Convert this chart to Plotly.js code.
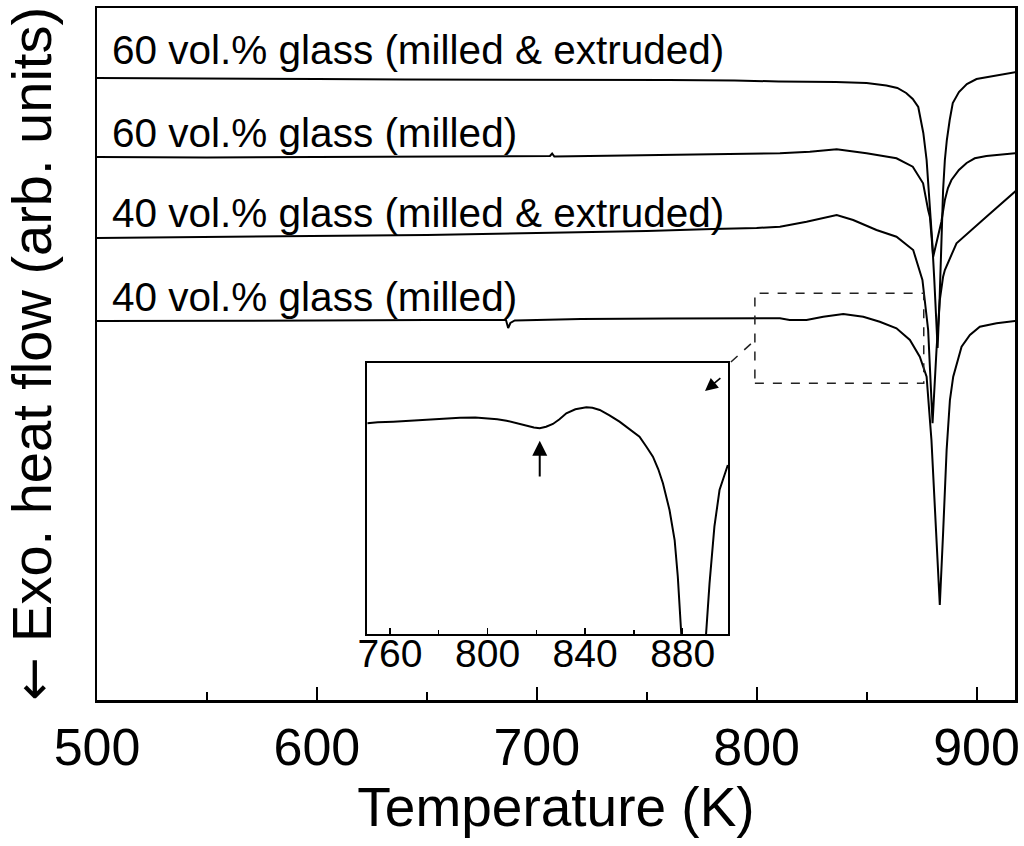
<!DOCTYPE html>
<html>
<head>
<meta charset="utf-8">
<script src="https://cdn.plot.ly/plotly-3.0.1.min.js"></script>
<style>html,body{margin:0;padding:0;background:#fff;}#chart{width:1024px;height:846px;}</style>
</head>
<body>
<div id="chart"></div>
<script>
// ---- Data (temperature in K, heat flow in arbitrary offset units) ----
const labels = [
  "60 vol.% glass (milled & extruded)",
  "60 vol.% glass (milled)",
  "40 vol.% glass (milled & extruded)",
  "40 vol.% glass (milled)"
];
const labelY = [650, 567, 487, 403];

const t60me = [500,530,560,600,640,680,720,760,790,810,836,850,859,864,868,871,873.5,875.8,877.3,878.6,879.8,880.8,881.6,882.3,883.2,884.0,884.8,885.6,886.5,887.8,889.2,892,895.6,900,904.7,910,918];
const f60me = [622,621.5,621.5,621,620.5,620.5,620,620,619.5,618.5,618,617,614.5,612,607,601,593,567,540,500,460,420,385,352,400,460,510,540,560,580,597,608,616,621,623,625,628];

const t60m = [500,550,600,650,690,706,707,708,740,780,810.6,824.2,836.4,850,863.6,871,875.7,878,878.8,880.3,882,884,885.6,887,888.6,892,895.5,899.2,904.5,918.2];
const f60m = [543,542.5,543,543.5,544,544,546.5,543.5,544.5,545.5,546.7,548.3,550.7,546.7,541.7,533.3,516.7,490,483,443.3,458,478,500,512,520,530,537,541.7,544,547];

const t40me = [500,550,600,650,700,750,780,800,810.6,822.7,836.4,843.9,854.5,863.6,871.2,875.4,878,880,881.8,883.3,884.8,885.6,890.9,899.2,904.5,918.3];
const f40me = [462,463,464,465,467,469,471,472,473.3,478.3,485,480,470,463.3,450,420,370,276.7,350,400,423.3,430,456.7,473.3,483.3,510];

const t40m = [500,550,600,650,680,686,687,688,690,720,760,800,810.6,815,822.7,830.3,839.4,848.5,856,863.6,869.7,874.2,877.3,879.5,881.8,883.3,884.8,886.4,887.9,889.4,893.2,897,901.5,909.1,918.2];
const f40m = [379,379,379.5,380,380,380,372,377,379.5,381,381.5,382,381.7,380,380,383.3,386,383.3,378.3,371.7,360,343.3,323.3,260,167,95,167,250,300,323.3,353.3,365,373.3,376.7,379.3];

// inset: 40 vol.% glass (milled), magnified
const tInset = [750.7,755,761.4,768,775,782,788.7,795,799.6,804,807.8,812,816,819,821.4,824,826.8,829.5,832.3,836,840.5,843,846,850,854.1,858,862.3,865,867.8,870,871.9,874.6,876.7,878,879.4,881,883.6,886.5,888.5,889.6,891,893,895.1,898.5];
const fInset = [211,212,212.6,213.5,215,215.5,216.6,216.8,216,215,213.6,211,208.3,206.8,206,207.5,210.3,215,221,225,227,226.5,224.3,219,212.6,205.5,197.6,188,177.6,165,151,124.3,94.3,57.6,1,-150,-640,-200,-20,1,51,107.6,144.3,169.3];

const xMajor = [500,600,700,800,900];
const xInsetTicks = [760,800,840,880];

// ---- Traces ----
const lineStyle = {color:'#000', width:2};
const traces = [
  {x:t60me, y:f60me, name:labels[0]},
  {x:t60m,  y:f60m,  name:labels[1]},
  {x:t40me, y:f40me, name:labels[2]},
  {x:t40m,  y:f40m,  name:labels[3]}
].map(d => Object.assign(d, {type:'scatter', mode:'lines', line:lineStyle, xaxis:'x', yaxis:'y', hoverinfo:'skip'}));
traces.push({x:tInset, y:fInset, type:'scatter', mode:'lines', line:lineStyle, xaxis:'x2', yaxis:'y2', name:'inset', hoverinfo:'skip'});

const FONT = 'Liberation Sans, Arial, Helvetica, sans-serif';

const annotations = labels.map((txt,i) => ({
  text: txt, x: 506, y: labelY[i], xref:'x', yref:'y',
  xanchor:'left', yanchor:'middle', showarrow:false,
  font:{family:FONT, size:40.5, color:'#000'}
}));
// inset up arrow (marks the dip)
annotations.push({x:821.4, y:193.6, ax:821.4, ay:156.3, xref:'x2', yref:'y2', axref:'x2', ayref:'y2',
  text:'', showarrow:true, arrowhead:2, arrowsize:1.5, arrowwidth:2, arrowcolor:'#000'});
// arrow from dashed box to inset
annotations.push({x:776.5, y:309, ax:784.2, ay:323, xref:'x', yref:'y', axref:'x', ayref:'y',
  text:'', showarrow:true, arrowhead:2, arrowsize:1.6, arrowwidth:1.6, arrowcolor:'#000'});

const shapes = [
  {type:'rect', xref:'x', yref:'y', x0:799.2, x1:876.0, y0:316.7, y1:406.7,
   line:{color:'#222', width:1.5, dash:'dash'}, fillcolor:'rgba(0,0,0,0)'},
  {type:'line', xref:'x', yref:'y', x0:788.3, y0:338, x1:798.3, y1:358,
   line:{color:'#222', width:1.5, dash:'dash'}}
];

const layout = {
  width:1024, height:846,
  margin:{l:97, r:9, t:8, b:146},
  paper_bgcolor:'#fff', plot_bgcolor:'#fff',
  showlegend:false,
  font:{family:FONT, color:'#000'},
  xaxis:{
    domain:[0,1], anchor:'y', range:[500,917.5],
    tickmode:'array', tickvals:xMajor, ticktext:xMajor.map(String),
    ticks:'inside', ticklen:13, tickwidth:2, tickcolor:'#000',
    minor:{tick0:500, dtick:50, ticks:'inside', ticklen:8, tickwidth:2, tickcolor:'#000'},
    showline:true, linewidth:2.5, linecolor:'#000', mirror:true,
    showgrid:false, zeroline:false,
    tickfont:{family:FONT, size:52, color:'#000'},
    title:{text:'Temperature (K)', font:{family:FONT, size:55, color:'#000'}, standoff:6}
  },
  yaxis:{
    domain:[0,1], anchor:'x', range:[0,692],
    showticklabels:false, ticks:'',
    showline:true, linewidth:2.5, linecolor:'#000', mirror:true,
    showgrid:false, zeroline:false,
    title:{text:'<span style="font-family:DejaVu Sans;font-size:52px">\u2190</span> Exo. heat flow (arb. units)', font:{family:FONT, size:56, color:'#000'}, standoff:39}
  },
  xaxis2:{
    domain:[0.2944,0.6877], anchor:'y2', range:[750.7,898.7],
    tickmode:'array', tickvals:xInsetTicks, ticktext:xInsetTicks.map(String),
    ticks:'inside', ticklen:6, tickwidth:1.5, tickcolor:'#000',
    minor:{tick0:760, dtick:20, ticks:'inside', ticklen:4, tickwidth:1.5, tickcolor:'#000'},
    showline:true, linewidth:2, linecolor:'#000', mirror:true,
    showgrid:false, zeroline:false,
    ticklabelstandoff:-16,
    tickfont:{family:FONT, size:39, color:'#000'}
  },
  yaxis2:{
    domain:[0.0949,0.4866], anchor:'x2', range:[0,271],
    showticklabels:false, ticks:'',
    showline:true, linewidth:2, linecolor:'#000', mirror:true,
    showgrid:false, zeroline:false
  },
  annotations:annotations,
  shapes:shapes
};

Plotly.newPlot('chart', traces, layout, {staticPlot:true, displayModeBar:false});
</script>
</body>
</html>
